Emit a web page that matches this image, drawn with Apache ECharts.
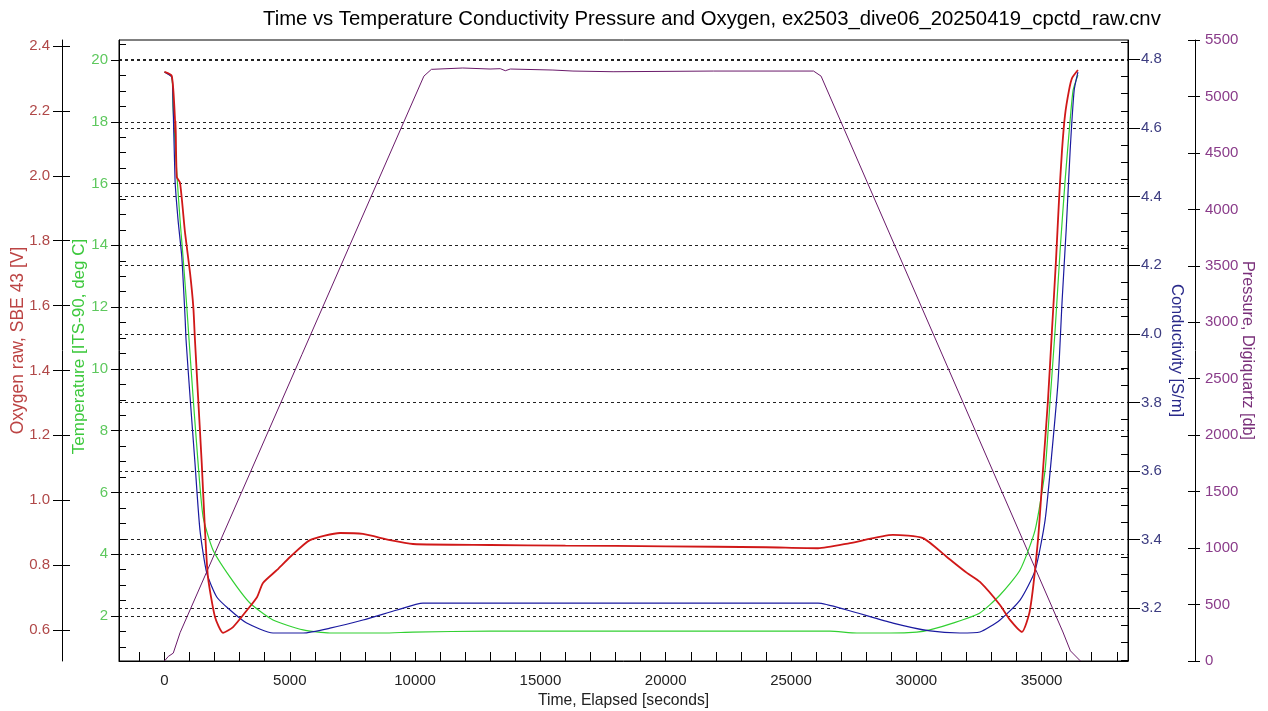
<!DOCTYPE html>
<html>
<head>
<meta charset="utf-8">
<title>Time vs Temperature Conductivity Pressure and Oxygen</title>
<script src="https://cdn.jsdelivr.net/npm/echarts@6/dist/echarts.min.js"></script>
<style>
html, body { margin: 0; padding: 0; background: #ffffff; }
#main { width: 1268px; height: 711px; }
</style>
</head>
<body>
<div id="main"></div>
<script>
// values (time in seconds)
var presTime = [0, 150, 350, 620, 10350, 10650, 11900, 12990, 13400, 13600, 13800, 15500, 16300, 17900, 21900, 25900, 26200, 35850, 36150, 36550];
var presVals = [0, 40, 70, 250, 5180, 5240, 5252, 5243, 5246, 5228, 5243, 5234, 5225, 5219, 5225, 5225, 5180, 257, 90, 0];

var tempTime = [0, 290, 340, 490, 620, 740, 890, 980, 1140, 1340, 1540, 1935, 2615, 3410, 4330, 5530, 6600, 8720, 9915, 12990, 26550, 27630, 28950, 30020, 30540, 31460, 32540, 33340, 34140, 34740, 35140, 35340, 35540, 35740, 35940, 36140, 36260, 36450];
var tempVals = [19.61, 19.45, 18.48, 16.34, 14.82, 13.62, 12.0, 10.94, 9.09, 6.95, 5.21, 4.14, 3.26, 2.42, 1.87, 1.55, 1.45, 1.45, 1.48, 1.51, 1.51, 1.45, 1.45, 1.48, 1.55, 1.77, 2.10, 2.68, 3.49, 4.78, 6.73, 8.99, 11.26, 13.85, 16.12, 18.06, 19.03, 19.51];

var condTime = [0, 290, 330, 420, 540, 690, 820, 860, 1020, 1215, 1415, 1685, 2085, 2615, 3280, 4330, 5530, 6600, 7920, 9280, 10315, 12990, 26080, 27230, 29070, 30550, 31740, 32540, 33340, 34140, 34740, 35140, 35420, 35660, 35820, 35980, 36140, 36300, 36450];
var condVals = [4.763, 4.748, 4.71, 4.448, 4.332, 4.224, 4.049, 3.982, 3.816, 3.624, 3.428, 3.303, 3.233, 3.195, 3.157, 3.128, 3.128, 3.142, 3.166, 3.195, 3.215, 3.215, 3.215, 3.195, 3.157, 3.134, 3.128, 3.131, 3.166, 3.224, 3.31, 3.457, 3.661, 3.865, 4.098, 4.302, 4.535, 4.71, 4.763];

var oxyTime = [0, 290, 420, 430, 440, 490, 620, 820, 1020, 1150, 1215, 1340, 1485, 1615, 1735, 2015, 2335, 2735, 3290, 3690, 3930, 4490, 5010, 5805, 7005, 7920, 9000, 9915, 12990, 16000, 20000, 24000, 26080, 27355, 29070, 30265, 31220, 32020, 32540, 33340, 33740, 34215, 34535, 34855, 35055, 35255, 35415, 35575, 35695, 35815, 35935, 36095, 36215, 36450];
var oxyVals = [2.32, 2.308, 2.172, 2.132, 2.17, 1.996, 1.978, 1.824, 1.70, 1.595, 1.494, 1.318, 1.115, 0.908, 0.763, 0.640, 0.591, 0.609, 0.661, 0.701, 0.745, 0.785, 0.825, 0.877, 0.899, 0.896, 0.877, 0.865, 0.862, 0.860, 0.858, 0.855, 0.852, 0.868, 0.893, 0.883, 0.825, 0.776, 0.748, 0.677, 0.631, 0.594, 0.661, 0.877, 1.093, 1.309, 1.525, 1.74, 1.925, 2.079, 2.187, 2.264, 2.301, 2.326];

// tick labels
var xLabelVals = [0, 5000, 10000, 15000, 20000, 25000, 30000, 35000];
var tempLabelVals = [2, 4, 6, 8, 10, 12, 14, 16, 18, 20];
var oxyLabelVals = [0.6, 0.8, 1.0, 1.2, 1.4, 1.6, 1.8, 2.0, 2.2, 2.4];
var condLabelVals = [3.2, 3.4, 3.6, 3.8, 4.0, 4.2, 4.4, 4.6, 4.8];
var presLabelVals = [0, 500, 1000, 1500, 2000, 2500, 3000, 3500, 4000, 4500, 5000, 5500];

// axis extents (match the frame of the original)
var X_MIN = -1816, X_MAX = 38448;
var T_MIN = 0.544, T_MAX = 20.647;
var O_MIN = 0.5044, O_MAX = 2.4185;
var C_MIN = 3.0464, C_MAX = 4.8563;

function steps(a, b, step, skip) {
    var out = [];
    for (var v = a; v <= b + 1e-9; v += step) {
        var r = Math.round(v * 1000) / 1000;
        if (!skip || skip.indexOf(r) < 0) out.push(r);
    }
    return out;
}
var xTickVals = steps(-1000, 38000, 1000);
var tempMinor = steps(1, 20.5, 0.5, tempLabelVals);
var condMinor = steps(3.05, 4.85, 0.05, condLabelVals);

function pairs(xs, ys) {
    return xs.map(function (x, i) { return [x, ys[i]]; });
}

var FONT = 'Liberation Sans, Arial, sans-serif';

function tickOnly(pos, offset, min, max, vals, inside, len) {
    return {
        type: 'value', position: pos, offset: offset, min: min, max: max,
        axisLine: { show: false, onZero: false },
        axisLabel: { show: false },
        splitLine: { show: false },
        axisTick: { show: true, inside: inside, length: len, customValues: vals, lineStyle: { color: '#000' } }
    };
}

var myChart = echarts.init(document.getElementById('main'));

var option = {
    animation: false,
    backgroundColor: '#ffffff',
    title: {
        text: 'Time vs Temperature Conductivity Pressure and Oxygen, ex2503_dive06_20250419_cpctd_raw.cnv',
        left: 258,
        top: 4,
        textStyle: { fontFamily: FONT, fontSize: 20.3, fontWeight: 'normal', color: '#000' }
    },
    grid: {
        left: 119, right: 140, top: 40, bottom: 50,
        containLabel: false, outerBoundsMode: 'none',
        show: true, borderColor: '#000', borderWidth: 1, backgroundColor: 'transparent'
    },
    xAxis: [{
        type: 'value', min: X_MIN, max: X_MAX, position: 'bottom',
        axisLine: { onZero: false, lineStyle: { color: '#000' } },
        axisTick: { inside: true, length: 9, customValues: xTickVals, lineStyle: { color: '#000' } },
        axisLabel: {
            customValues: xLabelVals, margin: 12, fontSize: 15, fontFamily: FONT, color: '#222',
            formatter: function (v) { return String(v); }
        },
        splitLine: { show: false },
        name: 'Time, Elapsed [seconds]', nameLocation: 'middle', nameGap: 32, nameMoveOverlap: false,
        nameTextStyle: { fontSize: 15.7, fontFamily: FONT, color: '#222' }
    }],
    yAxis: [
        // 0 temperature
        {
            type: 'value', position: 'left', offset: 0, min: T_MIN, max: T_MAX,
            axisLine: { show: true, onZero: false, lineStyle: { color: '#000' } },
            axisTick: { inside: false, length: 8, customValues: tempLabelVals, lineStyle: { color: '#000' } },
            axisLabel: { customValues: tempLabelVals, margin: 11, fontSize: 15, fontFamily: FONT, color: '#5ec85e' },
            splitLine: { show: true, lineStyle: { color: '#222', type: [3, 3], width: 1 } },
            name: 'Temperature [ITS-90, deg C]', nameLocation: 'middle', nameGap: 31, nameMoveOverlap: false,
            nameTextStyle: { fontSize: 17, fontFamily: FONT, color: '#3cc83c', padding: [0, 0, 0, 8] }
        },
        // 1 temperature minor ticks
        tickOnly('left', 0, T_MIN, T_MAX, tempMinor, true, 7),
        // 2 oxygen
        {
            type: 'value', position: 'left', offset: 57, min: O_MIN, max: O_MAX,
            axisLine: { show: true, onZero: false, lineStyle: { color: '#000' } },
            axisTick: { inside: false, length: 9, customValues: oxyLabelVals, lineStyle: { color: '#000' } },
            axisLabel: {
                customValues: oxyLabelVals, margin: 12, fontSize: 15, fontFamily: FONT, color: '#b04848',
                formatter: function (v) { return v.toFixed(1); }
            },
            splitLine: { show: false },
            name: 'Oxygen raw, SBE 43 [V]', nameLocation: 'middle', nameGap: 35, nameMoveOverlap: false,
            nameTextStyle: { fontSize: 17.5, fontFamily: FONT, color: '#bc4444', padding: [0, 0, 0, 20] }
        },
        // 3 oxygen inner ticks
        tickOnly('left', 57, O_MIN, O_MAX, oxyLabelVals, true, 8),
        // 4 conductivity
        {
            type: 'value', position: 'right', offset: 0, min: C_MIN, max: C_MAX,
            axisLine: { show: true, onZero: false, lineStyle: { color: '#000' } },
            axisTick: { inside: false, length: 12, customValues: condLabelVals, lineStyle: { color: '#000' } },
            axisLabel: {
                customValues: condLabelVals, margin: 13, fontSize: 15, fontFamily: FONT, color: '#3c3c80',
                formatter: function (v) { return v.toFixed(1); }
            },
            splitLine: { show: true, lineStyle: { color: '#222', type: [3, 3], width: 1 } },
            name: 'Conductivity [S/m]', nameLocation: 'middle', nameGap: 40, nameRotate: -90, nameMoveOverlap: false,
            nameTextStyle: { fontSize: 16.5, fontFamily: FONT, color: '#2a2a8a' }
        },
        // 5 conductivity minor ticks
        tickOnly('right', 0, C_MIN, C_MAX, condMinor, true, 7),
        // 6 pressure
        {
            type: 'value', position: 'right', offset: 67, min: 0, max: 5500, interval: 500,
            axisLine: { show: true, onZero: false, lineStyle: { color: '#000' } },
            axisTick: { inside: false, length: 5, lineStyle: { color: '#000' } },
            axisLabel: {
                margin: 10, fontSize: 15, fontFamily: FONT, color: '#8a3c8a',
                formatter: function (v) { return String(v); }
            },
            splitLine: { show: false },
            name: 'Pressure, Digiquartz [db]', nameLocation: 'middle', nameGap: 44, nameRotate: -90, nameMoveOverlap: false,
            nameTextStyle: { fontSize: 16.3, fontFamily: FONT, color: '#7a307a' }
        },
        // 7 pressure inner ticks
        tickOnly('right', 67, 0, 5500, presLabelVals, true, 7)
    ],
    series: [
        {
            name: 'Pressure', type: 'line', xAxisIndex: 0, yAxisIndex: 6,
            showSymbol: false, data: pairs(presTime, presVals),
            lineStyle: { color: '#6a1a6a', width: 1 }
        },
        {
            name: 'Temperature', type: 'line', xAxisIndex: 0, yAxisIndex: 0,
            showSymbol: false, smooth: 0.2, data: pairs(tempTime, tempVals),
            lineStyle: { color: '#32d032', width: 1.2 }
        },
        {
            name: 'Conductivity', type: 'line', xAxisIndex: 0, yAxisIndex: 4,
            showSymbol: false, smooth: 0.2, data: pairs(condTime, condVals),
            lineStyle: { color: '#1a1aa0', width: 1.2 }
        },
        {
            name: 'Oxygen', type: 'line', xAxisIndex: 0, yAxisIndex: 2,
            showSymbol: false, smooth: 0.2, data: pairs(oxyTime, oxyVals),
            lineStyle: { color: '#d01818', width: 1.8 }
        }
    ]
};

myChart.setOption(option);
window.addEventListener('resize', function () {
    myChart.resize();
});
</script>
</body>
</html>
